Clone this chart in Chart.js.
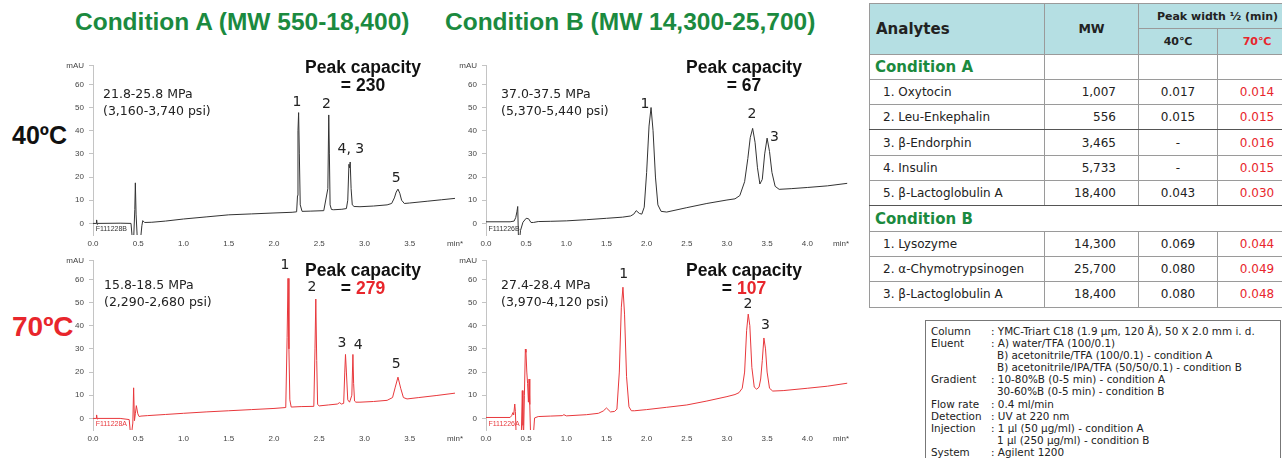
<!DOCTYPE html>
<html>
<head>
<meta charset="utf-8">
<script src="https://cdn.jsdelivr.net/npm/chart.js@4"></script>
<style>
body{margin:0;width:1282px;height:458px;overflow:hidden;background:#fff;position:relative;font-family:"DejaVu Sans",sans-serif;color:#222}
.abs{position:absolute;white-space:nowrap}
.title{font:bold 24.5px/28px "Liberation Sans",sans-serif;color:#1b8a3f}
.temp{font:bold 25px/30px "Liberation Sans",sans-serif;color:#111}
.press{font:12.5px/17px "DejaVu Sans",sans-serif;color:#222}
.cap{font:bold 17.5px/18px "Liberation Sans",sans-serif;text-align:center;width:200px;color:#111}
.red{color:#e8262c}
.chart{position:absolute}
#tbl{position:absolute;left:869px;top:3px;border-collapse:collapse;table-layout:fixed;width:427px;font:12px "DejaVu Sans",sans-serif;color:#222}
#tbl td,#tbl th{border:1px solid #9a9a9a;height:24.3px;padding:0;white-space:nowrap}
#tbl th{background:#b5dfe3;font-weight:bold;font-size:11px}
#tbl .an{text-align:left;padding-left:6px;font-size:15px}
#tbl .mwh{font-size:12.5px}
#tbl .cond{color:#1b8a3f;font-weight:bold;font-size:15px;padding-left:5px}
#tbl .nm{padding-left:13px}
#tbl .mw{text-align:right;padding-right:22px}
#tbl .w{text-align:center}
#tbl .dk{border-left-color:#333}
#tbl .dkb td{border-bottom-color:#555}
#box{position:absolute;left:925px;top:320px;width:356px;height:150px;border:1px solid #777;padding:4px 0 0 5px;box-sizing:border-box;font:10.4px/12.1px "DejaVu Sans",sans-serif;color:#222}
#box div{white-space:nowrap}
#box span{display:inline-block;width:60px}
#box .ind{padding-left:6px;font-weight:normal}
</style>
</head>
<body>
<div class="abs title" style="left:75px;top:8px">Condition A (MW 550-18,400)</div>
<div class="abs title" style="left:445px;top:8px">Condition B (MW 14,300-25,700)</div>
<div class="abs temp" style="left:12px;top:120px">40ºC</div>
<div class="abs temp red" style="left:12px;top:312px;font-size:28px">70ºC</div>

<canvas id="cA40" class="chart" style="left:60px;top:56px" width="407" height="197"></canvas>
<canvas id="cB40" class="chart" style="left:453px;top:56px" width="400" height="197"></canvas>
<canvas id="cA70" class="chart" style="left:60px;top:251px" width="407" height="197"></canvas>
<canvas id="cB70" class="chart" style="left:453px;top:251px" width="400" height="197"></canvas>

<div class="abs press" style="left:103px;top:85px">21.8-25.8 MPa<br>(3,160-3,740 psi)</div>
<div class="abs press" style="left:501px;top:85px">37.0-37.5 MPa<br>(5,370-5,440 psi)</div>
<div class="abs press" style="left:104px;top:276px">15.8-18.5 MPa<br>(2,290-2,680 psi)</div>
<div class="abs press" style="left:501px;top:276px">27.4-28.4 MPa<br>(3,970-4,120 psi)</div>

<div class="abs cap" style="left:263px;top:58px">Peak capacity<br>= 230</div>
<div class="abs cap" style="left:644px;top:58px">Peak capacity<br>= 67</div>
<div class="abs cap" style="left:263px;top:261px">Peak capacity<br>= <span class="red">279</span></div>
<div class="abs cap" style="left:644px;top:261px">Peak capacity<br>= <span class="red">107</span></div>

<table id="tbl">
<colgroup><col style="width:175px"><col style="width:94px"><col style="width:79px"><col style="width:79px"></colgroup>
<tbody id="tbody"></tbody>
</table>

<div id="box">
<div><span>Column</span>: YMC-Triart C18 (1.9 µm, 120 Å), 50 X 2.0 mm i. d.</div>
<div><span>Eluent</span>: A) water/TFA (100/0.1)</div>
<div><span></span><b class="ind">B) acetonitrile/TFA (100/0.1) - condition A</b></div>
<div><span></span><b class="ind">B) acetonitrile/IPA/TFA (50/50/0.1) - condition B</b></div>
<div><span>Gradient</span>: 10-80%B (0-5 min) - condition A</div>
<div><span></span><b class="ind">30-60%B (0-5 min) - condition B</b></div>
<div><span>Flow rate</span>: 0.4 ml/min</div>
<div><span>Detection</span>: UV at 220 nm</div>
<div><span>Injection</span>: 1 µl (50 µg/ml) - condition A</div>
<div><span></span><b class="ind">1 µl (250 µg/ml) - condition B</b></div>
<div><span>System</span>: Agilent 1200</div>
</div>

<script>
// ---- chromatogram traces (time in min, signal in mAU) ----
const timeA40 = [0.00, 0.035, 0.04, 0.045, 0.05, 0.30, 0.42, 0.435, 0.45, 0.462, 0.468, 0.476, 0.49, 0.525, 0.54, 0.55, 0.57, 0.65, 0.80, 1.00, 1.25, 1.50, 1.75, 2.00, 2.20, 2.25, 2.26, 2.265, 2.272, 2.28, 2.29, 2.31, 2.40, 2.55, 2.595, 2.605, 2.612, 2.62, 2.635, 2.66, 2.75, 2.80, 2.815, 2.828, 2.835, 2.842, 2.852, 2.865, 2.885, 2.95, 3.10, 3.25, 3.30, 3.33, 3.35, 3.37, 3.39, 3.41, 3.44, 3.50, 3.70, 3.85, 4.00];
const mauA40  = [0, 0, 1.5, -0.4, 0, 0.1, 0, -7, -6, 6, 17.5, 4, -7, -7, -1, 1.2, 0.4, 0.5, 1.0, 1.9, 2.8, 3.7, 4.1, 4.5, 4.8, 5.0, 12, 40, 47.8, 30, 8, 5.2, 5.3, 5.5, 15, 46.8, 30, 8, 6, 5.9, 6.1, 6.4, 10, 25.5, 24, 26.5, 15, 8, 7.3, 7.2, 7.5, 8.0, 8.6, 11, 13.5, 14.8, 13, 10, 8.6, 8.8, 9.6, 10.2, 10.8];

const timeB40 = [0.00, 0.30, 0.35, 0.37, 0.385, 0.395, 0.405, 0.415, 0.43, 0.46, 0.50, 0.53, 0.56, 0.59, 0.65, 0.80, 1.00, 1.25, 1.50, 1.70, 1.80, 1.84, 1.87, 1.91, 1.94, 1.97, 2.00, 2.03, 2.055, 2.08, 2.11, 2.14, 2.18, 2.25, 2.50, 2.75, 3.00, 3.10, 3.16, 3.22, 3.26, 3.29, 3.32, 3.35, 3.38, 3.41, 3.44, 3.47, 3.50, 3.53, 3.56, 3.60, 3.65, 3.80, 4.00, 4.25, 4.50];
const mauB40  = [0.7, 0.7, 1.0, 2.5, 5, 7.3, -8, -8, -3, 0.5, 2.2, 2.0, 0.4, 0.4, 0.8, 0.9, 1.1, 1.6, 2.2, 2.7, 3.2, 4.0, 5.5, 4.3, 4.0, 7, 22, 42, 50, 40, 20, 8, 5.2, 4.9, 6.8, 8.6, 10.1, 10.6, 12, 18, 28, 37, 41, 35, 24, 17, 19, 30, 36.8, 31, 22, 16, 14.7, 15, 15.5, 16.2, 17.3];

const timeA70 = [0.00, 0.035, 0.04, 0.045, 0.05, 0.30, 0.40, 0.415, 0.425, 0.44, 0.449, 0.458, 0.468, 0.479, 0.495, 0.51, 0.53, 0.60, 0.80, 1.00, 1.25, 1.50, 1.75, 2.00, 2.13, 2.145, 2.155, 2.165, 2.175, 2.19, 2.30, 2.44, 2.453, 2.462, 2.472, 2.482, 2.50, 2.60, 2.70, 2.725, 2.745, 2.77, 2.782, 2.79, 2.80, 2.815, 2.835, 2.86, 2.872, 2.88, 2.89, 2.905, 2.95, 3.10, 3.25, 3.31, 3.34, 3.37, 3.40, 3.43, 3.47, 3.60, 3.80, 4.00];
const mauA70  = [0, 0, 1.5, -0.3, 0, 0, -0.5, -7, -7, -2, 13.2, -1, 2, 5.5, 2, 0.8, 1.0, 1.2, 1.7, 2.2, 2.8, 3.3, 3.8, 4.3, 4.7, 35, 60.4, 30, 8, 4.9, 5.1, 5.2, 30, 51.5, 25, 6, 5.4, 5.8, 6.2, 6.8, 6.2, 6.5, 20, 27.6, 20, 8, 7, 10, 27.6, 15, 7.5, 7, 7, 7.3, 7.8, 9, 13.5, 17.8, 13, 9, 8.4, 9.0, 9.9, 10.9];

const timeB70 = [0.00, 0.30, 0.32, 0.335, 0.345, 0.358, 0.366, 0.375, 0.385, 0.44, 0.452, 0.46, 0.468, 0.478, 0.49, 0.498, 0.508, 0.518, 0.528, 0.536, 0.545, 0.555, 0.565, 0.59, 0.605, 0.65, 0.80, 0.95, 0.97, 1.00, 1.25, 1.40, 1.46, 1.50, 1.55, 1.60, 1.63, 1.66, 1.685, 1.705, 1.725, 1.75, 1.78, 1.81, 1.85, 2.00, 2.25, 2.50, 2.75, 3.00, 3.10, 3.15, 3.19, 3.22, 3.245, 3.265, 3.285, 3.31, 3.34, 3.37, 3.40, 3.42, 3.44, 3.46, 3.48, 3.50, 3.53, 3.57, 3.70, 4.00, 4.25, 4.50];
const mauB70  = [0.4, 0.4, 1.2, 2.5, 1.5, 6.2, 3, -7, -7, -7, 12, -3, -7, 10, 29.9, 28.5, 20, 15, 7, 17, 6, -7, -7, -7, 0.2, 0.8, 1.0, 1.2, 1.6, 1.1, 1.6, 2.2, 3.2, 4.5, 2.8, 3.0, 4.0, 20, 48, 56.6, 45, 18, 5, 3.3, 3.3, 3.8, 4.8, 5.8, 7.5, 9.4, 10.3, 11.1, 13, 20, 38, 45, 40, 22, 13.5, 12.6, 13.5, 17, 25, 34.7, 30, 20, 13, 11.8, 12, 13, 13.9, 15.2];

// ---- axes ----
const xTicksA = [0, 0.5, 1.0, 1.5, 2.0, 2.5, 3.0, 3.5, 4.0];
const xTicksB = [0, 0.5, 1.0, 1.5, 2.0, 2.5, 3.0, 3.5, 4.0, 4.42];
const yTicks = [0, 10, 20, 30, 40, 50, 60, 68];

// ---- peak numbers (text, time, mAU level) ----
const peakTextA40 = ['1', '2', '4, 3', '5'];
const peakTimeA40 = [2.255, 2.58, 2.85, 3.35];
const peakLevelA40 = [52.3, 51.5, 31.8, 19.4];
const peakTextB40 = ['1', '2', '3'];
const peakTimeB40 = [1.98, 3.31, 3.59];
const peakLevelB40 = [51.3, 47, 37.2];
const peakTextA70 = ['1', '2', '3', '4', '5'];
const peakTimeA70 = [2.12, 2.42, 2.75, 2.93, 3.35];
const peakLevelA70 = [66, 56.7, 32.2, 31.5, 23.2];
const peakTextB70 = ['1', '2', '3'];
const peakTimeB70 = [1.716, 3.26, 3.48];
const peakLevelB70 = [62.2, 49.3, 40.3];

// ---- table ----
const condANames = ['1. Oxytocin', '2. Leu-Enkephalin', '3. β-Endorphin', '4. Insulin', '5. β-Lactoglobulin A'];
const condAMw = ['1,007', '556', '3,465', '5,733', '18,400'];
const condAW40 = ['0.017', '0.015', '-', '-', '0.043'];
const condAW70 = ['0.014', '0.015', '0.016', '0.015', '0.030'];
const condBNames = ['1. Lysozyme', '2. α-Chymotrypsinogen', '3. β-Lactoglobulin A'];
const condBMw = ['14,300', '25,700', '18,400'];
const condBW40 = ['0.069', '0.080', '0.080'];
const condBW70 = ['0.044', '0.049', '0.048'];

const textMarks = {
    id: 'textMarks',
    afterDatasetsDraw(chart, args, opts) {
        const ctx = chart.ctx;
        const xs = chart.scales.x, ys = chart.scales.y;
        ctx.save();
        (opts.items || []).forEach(it => {
            ctx.font = it.font;
            ctx.fillStyle = it.color;
            ctx.textAlign = it.align || 'center';
            ctx.textBaseline = 'middle';
            ctx.fillText(it.text, xs.getPixelForValue(it.x), ys.getPixelForValue(it.y));
        });
        ctx.restore();
    }
};

function drawTrace(id, times, values, color, xMax, xTicks, unitTick, texts, ptimes, plevels, fileTag) {
    const items = texts.map((t, i) => ({
        text: t, x: ptimes[i], y: plevels[i], color: '#222', font: '14px "DejaVu Sans"'
    }));
    items.push({ text: fileTag, x: 0.03, y: -2.3, color: color, font: '7px "Liberation Sans"', align: 'left' });

    new Chart(document.getElementById(id), {
        type: 'line',
        data: {
            datasets: [{
                data: times.map((t, i) => ({ x: t, y: values[i] })),
                borderColor: color,
                borderWidth: 1,
                pointRadius: 0,
                tension: 0,
                fill: false
            }]
        },
        options: {
            responsive: false,
            animation: false,
            layout: { padding: 0 },
            plugins: {
                legend: { display: false },
                tooltip: { enabled: false },
                textMarks: { items: items }
            },
            scales: {
                x: {
                    type: 'linear', min: 0, max: xMax,
                    border: { display: false },
                    grid: { display: false, drawTicks: false },
                    ticks: {
                        autoSkip: false, maxRotation: 0, padding: 4,
                        color: '#444', font: { family: 'Liberation Sans', size: 8 },
                        callback: v => v === unitTick ? 'min*' : v.toFixed(1)
                    },
                    afterBuildTicks: s => { s.ticks = xTicks.map(v => ({ value: v })); },
                    afterFit: s => { s.height = 18; }
                },
                y: {
                    min: -5, max: 68,
                    border: { display: true, color: '#c4c4c4' },
                    grid: { display: true, drawOnChartArea: false, tickLength: 4, color: '#c4c4c4' },
                    ticks: {
                        autoSkip: false, padding: 5,
                        color: '#444', font: { family: 'Liberation Sans', size: 8 },
                        callback: v => v === 68 ? 'mAU' : v
                    },
                    afterBuildTicks: s => { s.ticks = yTicks.map(v => ({ value: v })); },
                    afterFit: s => { s.width = 33; }
                }
            }
        },
        plugins: [textMarks]
    });
}

drawTrace('cA40', timeA40, mauA40, '#333', 4.0, xTicksA, 4.0, peakTextA40, peakTimeA40, peakLevelA40, 'F111228B');
drawTrace('cB40', timeB40, mauB40, '#333', 4.5, xTicksB, 4.42, peakTextB40, peakTimeB40, peakLevelB40, 'F111226B');
drawTrace('cA70', timeA70, mauA70, '#e8383c', 4.0, xTicksA, 4.0, peakTextA70, peakTimeA70, peakLevelA70, 'F111228A');
drawTrace('cB70', timeB70, mauB70, '#e8383c', 4.5, xTicksB, 4.42, peakTextB70, peakTimeB70, peakLevelB70, 'F111226A');

// build table
const tb = document.getElementById('tbody');
let html = '';
html += '<tr><th rowspan="2" class="an">Analytes</th><th rowspan="2" class="mwh">MW</th><th colspan="2" class="dk">Peak width ½ (min)</th></tr>';
html += '<tr><th class="dk">40℃</th><th class="dk red">70℃</th></tr>';
html += '<tr><td class="cond">Condition A</td><td></td><td class="dk"></td><td class="dk"></td></tr>';
condANames.forEach((n, i) => {
    html += '<tr' + (i === 1 || i === 4 ? ' class="dkb"' : '') + '><td class="nm">' + n + '</td><td class="mw">' + condAMw[i] +
        '</td><td class="w dk">' + condAW40[i] + '</td><td class="w dk red">' + condAW70[i] + '</td></tr>';
});
html += '<tr><td colspan="4" class="cond">Condition B</td></tr>';
condBNames.forEach((n, i) => {
    html += '<tr><td class="nm">' + n + '</td><td class="mw">' + condBMw[i] +
        '</td><td class="w">' + condBW40[i] + '</td><td class="w red">' + condBW70[i] + '</td></tr>';
});
tb.innerHTML = html;
</script>
</body>
</html>
